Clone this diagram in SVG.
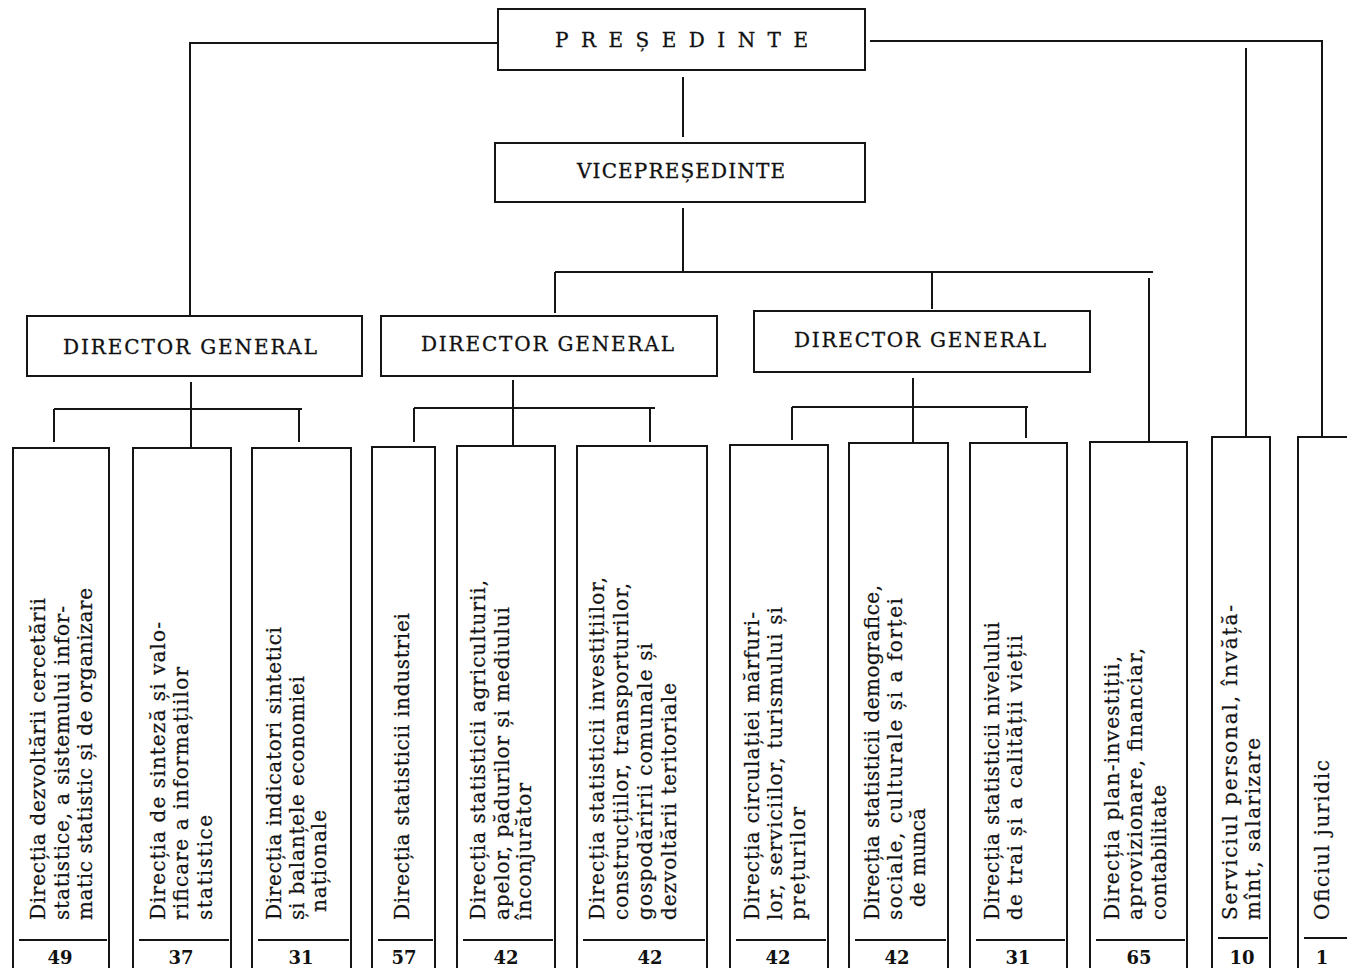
<svg xmlns="http://www.w3.org/2000/svg" width="1347" height="968" viewBox="0 0 1347 968">
<style>
.b{fill:none;stroke:#151515;stroke-width:2}
.c{fill:none;stroke:#151515;stroke-width:2}
.h{font-family:"DejaVu Serif","Liberation Serif",serif;font-size:20px;fill:#111;stroke:#111;stroke-width:0.3}
.v{font-family:"DejaVu Serif","Liberation Serif",serif;font-size:20px;fill:#111;stroke:#111;stroke-width:0.25}
.n{font-family:"DejaVu Serif","Liberation Serif",serif;font-size:18px;font-weight:bold;fill:#111;text-anchor:middle}
</style>
<rect width="1347" height="968" fill="#fff"/>
<g id="connectors">
<path class="c" d="M498 43H190V315"/>
<path class="c" d="M870 41H1322V437"/>
<path class="c" d="M1246 48V437"/>
<path class="c" d="M683 77V137"/>
<path class="c" d="M683 208V271"/>
<path class="c" d="M555 272H1153"/>
<path class="c" d="M555 272V313"/>
<path class="c" d="M932 273V309"/>
<path class="c" d="M1149 278V441"/>
<path class="c" d="M191 382V447"/>
<path class="c" d="M54 409H302"/>
<path class="c" d="M54 409V442"/>
<path class="c" d="M299 409V442"/>
<path class="c" d="M513 380V445"/>
<path class="c" d="M414 408H655"/>
<path class="c" d="M414 408V442"/>
<path class="c" d="M650 408V442"/>
<path class="c" d="M913 378V443"/>
<path class="c" d="M792 407H1028"/>
<path class="c" d="M792 407V440"/>
<path class="c" d="M1026 407V438"/>
</g>
<g id="presedinte">
<rect class="b" x="498" y="9" width="367" height="61"/>
<text class="h" x="555" y="47" textLength="253" lengthAdjust="spacing">PREȘEDINTE</text>
</g>
<g id="vicepresedinte">
<rect class="b" x="495" y="143" width="370" height="59"/>
<text class="h" x="577" y="178" textLength="208" lengthAdjust="spacing">VICEPREȘEDINTE</text>
</g>
<g id="dg1">
<rect class="b" x="27" y="316" width="335" height="60"/>
<text class="h" x="63" y="354" textLength="254" lengthAdjust="spacing">DIRECTOR GENERAL</text>
</g>
<g id="dg2">
<rect class="b" x="381" y="316" width="336" height="60"/>
<text class="h" x="421" y="351" textLength="253" lengthAdjust="spacing">DIRECTOR GENERAL</text>
</g>
<g id="dg3">
<rect class="b" x="754" y="311" width="336" height="61"/>
<text class="h" x="794" y="347" textLength="252" lengthAdjust="spacing">DIRECTOR GENERAL</text>
</g>
<g id="u1">
<path class="b" d="M13 968V448H109V968M19 940H107"/>
<text class="v" transform="translate(45,920) rotate(-90)" textLength="322" lengthAdjust="spacing">Direcția dezvoltării cercetării</text>
<text class="v" transform="translate(69,920) rotate(-90)" textLength="314" lengthAdjust="spacing">statistice, a sistemului infor-</text>
<text class="v" transform="translate(92,920) rotate(-90)" textLength="332" lengthAdjust="spacing">matic statistic și de organizare</text>
<text class="n" x="60" y="964">49</text>
</g>
<g id="u2">
<path class="b" d="M133 968V448H231V968M139 940H229"/>
<text class="v" transform="translate(165,920) rotate(-90)" textLength="298" lengthAdjust="spacing">Direcția de sinteză și valo-</text>
<text class="v" transform="translate(188,920) rotate(-90)" textLength="253" lengthAdjust="spacing">rificare a informațiilor</text>
<text class="v" transform="translate(212,920) rotate(-90)" textLength="105" lengthAdjust="spacing">statistice</text>
<text class="n" x="181" y="964">37</text>
</g>
<g id="u3">
<path class="b" d="M252 968V448H351V968M258 940H349"/>
<text class="v" transform="translate(281,920) rotate(-90)" textLength="293" lengthAdjust="spacing">Direcția indicatori sintetici</text>
<text class="v" transform="translate(304,920) rotate(-90)" textLength="244" lengthAdjust="spacing">și balanțele economiei</text>
<text class="v" transform="translate(326,912) rotate(-90)" textLength="102" lengthAdjust="spacing">naționale</text>
<text class="n" x="301" y="964">31</text>
</g>
<g id="u4">
<path class="b" d="M372 968V447H435V968M378 940H433"/>
<text class="v" transform="translate(409,920) rotate(-90)" textLength="307" lengthAdjust="spacing">Direcția statisticii industriei</text>
<text class="n" x="404" y="964">57</text>
</g>
<g id="u5">
<path class="b" d="M457 968V446H555V968M463 940H553"/>
<text class="v" transform="translate(485,920) rotate(-90)" textLength="340" lengthAdjust="spacing">Direcția statisticii agriculturii,</text>
<text class="v" transform="translate(509,920) rotate(-90)" textLength="313" lengthAdjust="spacing">apelor, pădurilor și mediului</text>
<text class="v" transform="translate(531,920) rotate(-90)" textLength="137" lengthAdjust="spacing">înconjurător</text>
<text class="n" x="506" y="964">42</text>
</g>
<g id="u6">
<path class="b" d="M577 968V446H707V968M583 940H705"/>
<text class="v" transform="translate(604,920) rotate(-90)" textLength="343" lengthAdjust="spacing">Direcția statisticii investițiilor,</text>
<text class="v" transform="translate(628,920) rotate(-90)" textLength="337" lengthAdjust="spacing">construcțiilor, transporturilor,</text>
<text class="v" transform="translate(652,920) rotate(-90)" textLength="277" lengthAdjust="spacing">gospodăririi comunale și</text>
<text class="v" transform="translate(676,920) rotate(-90)" textLength="237" lengthAdjust="spacing">dezvoltării teritoriale</text>
<text class="n" x="650" y="964">42</text>
</g>
<g id="u7">
<path class="b" d="M730 968V445H828V968M736 940H826"/>
<text class="v" transform="translate(759,920) rotate(-90)" textLength="308" lengthAdjust="spacing">Direcția circulației mărfuri-</text>
<text class="v" transform="translate(782,920) rotate(-90)" textLength="313" lengthAdjust="spacing">lor, serviciilor, turismului și</text>
<text class="v" transform="translate(805,920) rotate(-90)" textLength="113" lengthAdjust="spacing">prețurilor</text>
<text class="n" x="778" y="964">42</text>
</g>
<g id="u8">
<path class="b" d="M849 968V443H948V968M855 940H946"/>
<text class="v" transform="translate(879,920) rotate(-90)" textLength="335" lengthAdjust="spacing">Direcția statisticii demografice,</text>
<text class="v" transform="translate(902,920) rotate(-90)" textLength="322" lengthAdjust="spacing">sociale, culturale și a forței</text>
<text class="v" transform="translate(925,907) rotate(-90)">de muncă</text>
<text class="n" x="897" y="964">42</text>
</g>
<g id="u9">
<path class="b" d="M970 968V443H1067V968M976 940H1065"/>
<text class="v" transform="translate(999,920) rotate(-90)" textLength="298" lengthAdjust="spacing">Direcția statisticii nivelului</text>
<text class="v" transform="translate(1022,920) rotate(-90)" textLength="285" lengthAdjust="spacing">de trai și a calității vieții</text>
<text class="n" x="1018" y="964">31</text>
</g>
<g id="u10">
<path class="b" d="M1090 968V442H1187V968M1096 940H1185"/>
<text class="v" transform="translate(1119,920) rotate(-90)" textLength="264" lengthAdjust="spacing">Direcția plan-investiții,</text>
<text class="v" transform="translate(1142,920) rotate(-90)" textLength="272" lengthAdjust="spacing">aprovizionare, financiar,</text>
<text class="v" transform="translate(1166,920) rotate(-90)" textLength="135" lengthAdjust="spacing">contabilitate</text>
<text class="n" x="1139" y="964">65</text>
</g>
<g id="u11">
<path class="b" d="M1212 968V437H1270V968M1218 938H1268"/>
<text class="v" transform="translate(1237,920) rotate(-90)" textLength="315" lengthAdjust="spacing">Serviciul personal, învăță-</text>
<text class="v" transform="translate(1260,920) rotate(-90)" textLength="182" lengthAdjust="spacing">mînt, salarizare</text>
<text class="n" x="1242" y="964">10</text>
</g>
<g id="u12">
<path class="b" d="M1298 968V437H1350M1304 938H1350"/>
<text class="v" transform="translate(1329,920) rotate(-90)" textLength="160" lengthAdjust="spacing">Oficiul juridic</text>
<text class="n" x="1322" y="964">1</text>
</g>
</svg>
